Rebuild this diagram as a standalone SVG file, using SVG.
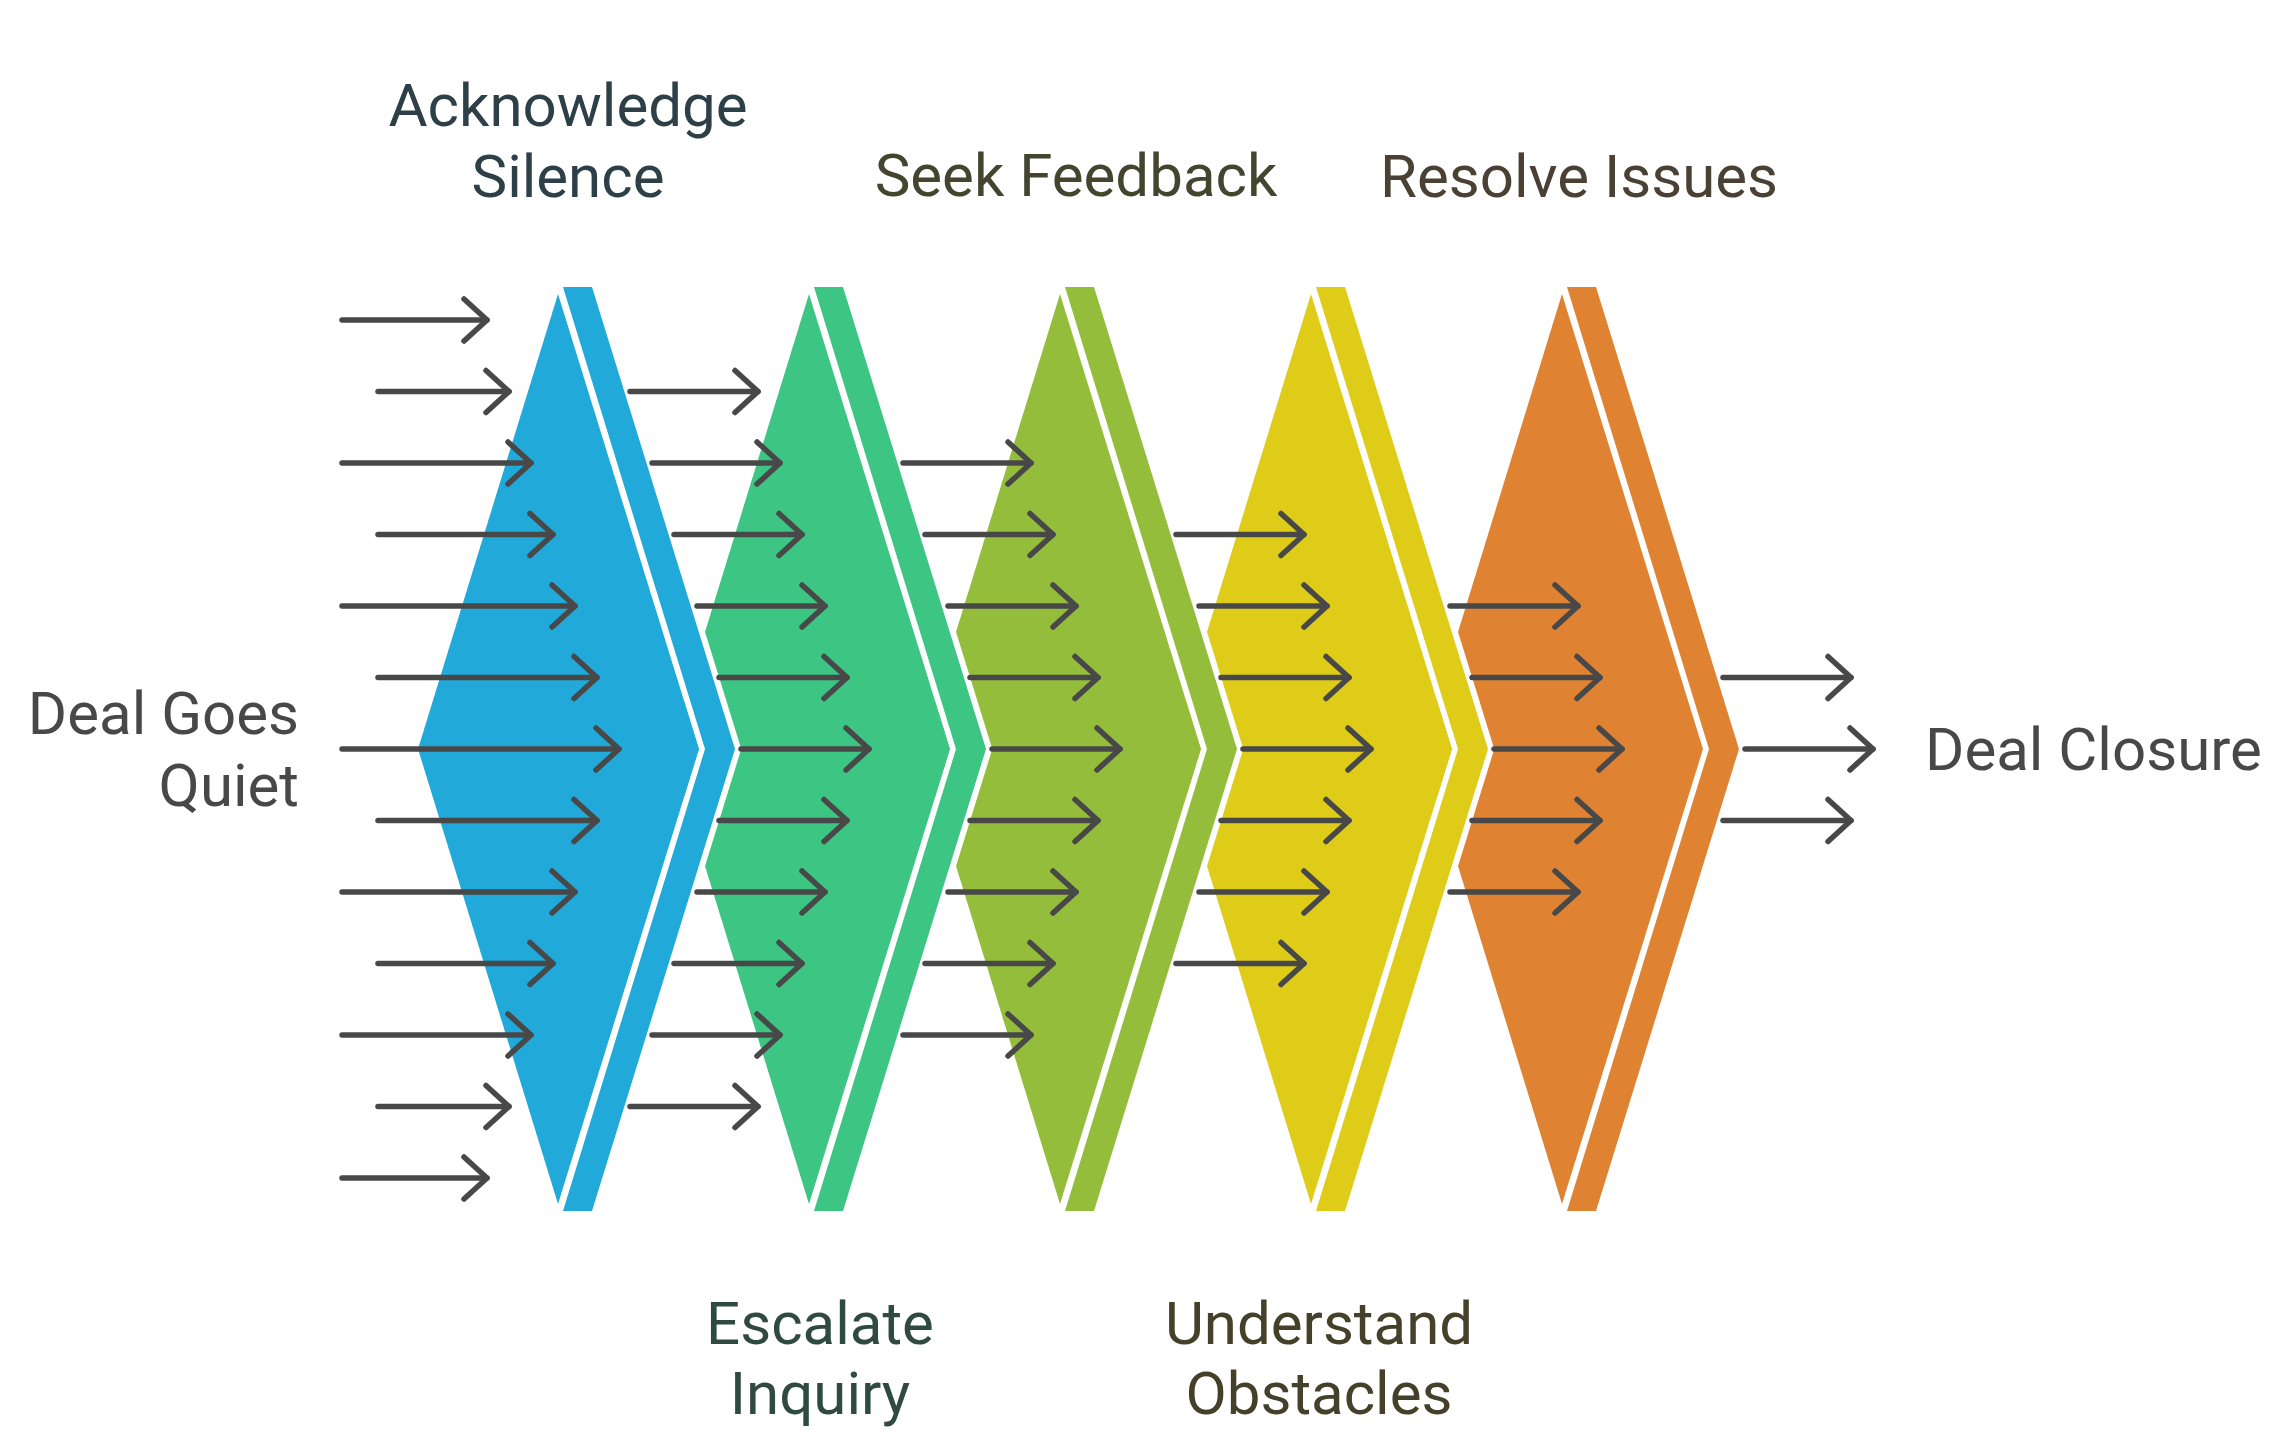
<svg xmlns="http://www.w3.org/2000/svg" width="2280" height="1446" viewBox="0 0 2280 1446">
<style>
.lbl{font-family:Roboto,"Liberation Sans",sans-serif;font-size:60px}
.stripe{stroke:#fff;stroke-width:12;paint-order:stroke;stroke-linejoin:miter;stroke-miterlimit:6}
.arr line{stroke:#484848;stroke-width:5.5;stroke-linecap:round;fill:none}
</style>
<defs>
<marker id="ah" markerUnits="userSpaceOnUse" markerWidth="40" markerHeight="60" viewBox="-30 -30 40 60" refX="0" refY="0" orient="auto" overflow="visible">
<path d="M-23,-21 L0,0 L-23,21" fill="none" stroke="#484848" stroke-width="5.5" stroke-linecap="round" stroke-linejoin="round"/>
</marker>
</defs>
<rect width="2280" height="1446" fill="#fff"/>
<g id="stage5">
<polygon class="stripe" fill="#DF8332" points="1567,287 1596,287 1739,749 1596,1211 1567,1211 1709,749"/>
<polygon fill="#DF8332" points="1562,294 1703,749 1562,1204 1422,749"/>
</g>
<g id="stage4">
<polygon class="stripe" fill="#DFCC18" points="1316,287 1345,287 1488,749 1345,1211 1316,1211 1458,749"/>
<polygon fill="#DFCC18" points="1311,294 1452,749 1311,1204 1171,749"/>
</g>
<g id="stage3">
<polygon class="stripe" fill="#93BD3A" points="1065,287 1094,287 1237,749 1094,1211 1065,1211 1207,749"/>
<polygon fill="#93BD3A" points="1060,294 1201,749 1060,1204 920,749"/>
</g>
<g id="stage2">
<polygon class="stripe" fill="#3DC583" points="814,287 843,287 986,749 843,1211 814,1211 956,749"/>
<polygon fill="#3DC583" points="809,294 950,749 809,1204 669,749"/>
</g>
<g id="stage1">
<polygon class="stripe" fill="#21A9DA" points="563,287 592,287 735,749 592,1211 563,1211 705,749"/>
<polygon fill="#21A9DA" points="558,294 699,749 558,1204 418,749"/>
</g>
<g id="connectors" class="arr">
<g marker-end="url(#ah)">
<line x1="342" y1="320" x2="487" y2="320"/>
<line x1="378" y1="391.5" x2="509" y2="391.5"/>
<line x1="342" y1="463" x2="531" y2="463"/>
<line x1="378" y1="534.5" x2="553" y2="534.5"/>
<line x1="342" y1="606" x2="575" y2="606"/>
<line x1="378" y1="677.5" x2="597" y2="677.5"/>
<line x1="342" y1="749" x2="619" y2="749"/>
<line x1="378" y1="820.5" x2="597" y2="820.5"/>
<line x1="342" y1="892" x2="575" y2="892"/>
<line x1="378" y1="963.5" x2="553" y2="963.5"/>
<line x1="342" y1="1035" x2="531" y2="1035"/>
<line x1="378" y1="1106.5" x2="509" y2="1106.5"/>
<line x1="342" y1="1178" x2="487" y2="1178"/>

<line x1="630" y1="391.5" x2="758" y2="391.5"/>
<line x1="652" y1="463" x2="780" y2="463"/>
<line x1="674" y1="534.5" x2="802" y2="534.5"/>
<line x1="697" y1="606" x2="825" y2="606"/>
<line x1="719" y1="677.5" x2="847" y2="677.5"/>
<line x1="741" y1="749" x2="869" y2="749"/>
<line x1="719" y1="820.5" x2="847" y2="820.5"/>
<line x1="697" y1="892" x2="825" y2="892"/>
<line x1="674" y1="963.5" x2="802" y2="963.5"/>
<line x1="652" y1="1035" x2="780" y2="1035"/>
<line x1="630" y1="1106.5" x2="758" y2="1106.5"/>

<line x1="903" y1="463" x2="1031" y2="463"/>
<line x1="925" y1="534.5" x2="1053" y2="534.5"/>
<line x1="948" y1="606" x2="1076" y2="606"/>
<line x1="970" y1="677.5" x2="1098" y2="677.5"/>
<line x1="992" y1="749" x2="1120" y2="749"/>
<line x1="970" y1="820.5" x2="1098" y2="820.5"/>
<line x1="948" y1="892" x2="1076" y2="892"/>
<line x1="925" y1="963.5" x2="1053" y2="963.5"/>
<line x1="903" y1="1035" x2="1031" y2="1035"/>

<line x1="1176" y1="534.5" x2="1304" y2="534.5"/>
<line x1="1199" y1="606" x2="1327" y2="606"/>
<line x1="1221" y1="677.5" x2="1349" y2="677.5"/>
<line x1="1243" y1="749" x2="1371" y2="749"/>
<line x1="1221" y1="820.5" x2="1349" y2="820.5"/>
<line x1="1199" y1="892" x2="1327" y2="892"/>
<line x1="1176" y1="963.5" x2="1304" y2="963.5"/>

<line x1="1450" y1="606" x2="1578" y2="606"/>
<line x1="1472" y1="677.5" x2="1600" y2="677.5"/>
<line x1="1494" y1="749" x2="1622" y2="749"/>
<line x1="1472" y1="820.5" x2="1600" y2="820.5"/>
<line x1="1450" y1="892" x2="1578" y2="892"/>

<line x1="1723" y1="677.5" x2="1851" y2="677.5"/>
<line x1="1745" y1="749" x2="1873" y2="749"/>
<line x1="1723" y1="820.5" x2="1851" y2="820.5"/>
</g>
</g>
<g id="label-start">
<text class="lbl" fill="#484848" text-anchor="end" x="299" y="734">Deal Goes</text>
<text class="lbl" fill="#484848" text-anchor="end" x="299" y="806">Quiet</text>
</g>
<g id="label-acknowledge">
<text class="lbl" fill="#2D3F47" text-anchor="middle" x="568" y="126">Acknowledge</text>
<text class="lbl" fill="#2D3F47" text-anchor="middle" x="568" y="197">Silence</text>
</g>
<g id="label-escalate">
<text class="lbl" fill="#2F4A40" text-anchor="middle" x="820" y="1344">Escalate</text>
<text class="lbl" fill="#2F4A40" text-anchor="middle" x="820" y="1414">Inquiry</text>
</g>
<g id="label-feedback">
<text class="lbl" fill="#43452F" text-anchor="middle" x="1076" y="196">Seek Feedback</text>
</g>
<g id="label-understand">
<text class="lbl" fill="#45402A" text-anchor="middle" x="1319" y="1344">Understand</text>
<text class="lbl" fill="#45402A" text-anchor="middle" x="1319" y="1414">Obstacles</text>
</g>
<g id="label-resolve">
<text class="lbl" fill="#4A4034" text-anchor="middle" x="1579" y="197">Resolve Issues</text>
</g>
<g id="label-end">
<text class="lbl" fill="#484848" x="1925" y="770">Deal Closure</text>
</g>
</svg>
